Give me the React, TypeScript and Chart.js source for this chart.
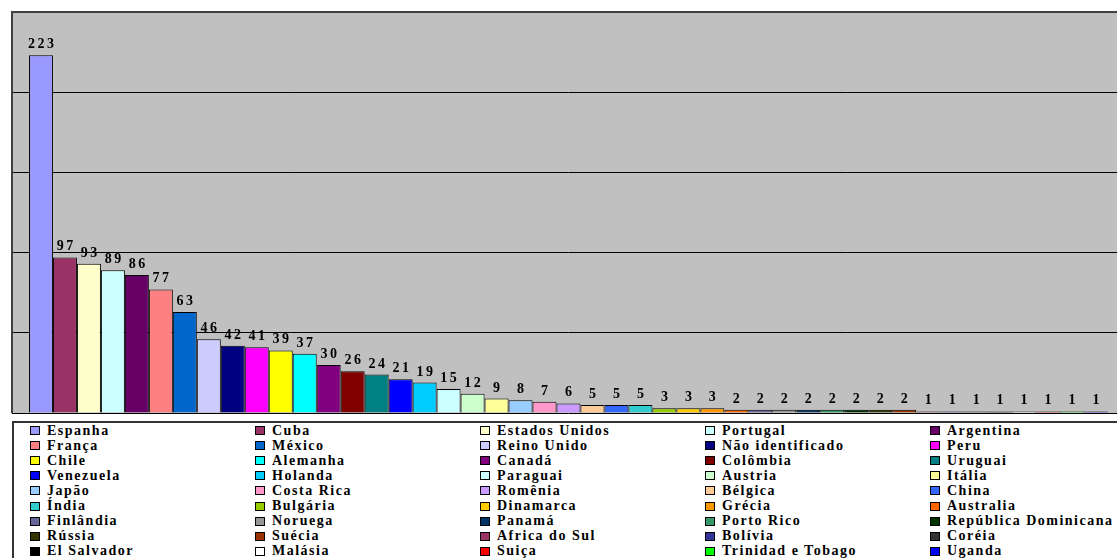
import React, { useEffect, useRef } from "react";
import { Chart, registerables } from "chart.js";

Chart.register(...registerables);

const countries: string[] = [
  "Espanha", "Cuba", "Estados Unidos", "Portugal", "Argentina",
  "França", "México", "Reino Unido", "Não identificado", "Peru",
  "Chile", "Alemanha", "Canadá", "Colômbia", "Uruguai",
  "Venezuela", "Holanda", "Paraguai", "Austria", "Itália",
  "Japão", "Costa Rica", "Romênia", "Bélgica", "China",
  "Índia", "Bulgária", "Dinamarca", "Grécia", "Australia",
  "Finlândia", "Noruega", "Panamá", "Porto Rico", "República Dominicana",
  "Rússia", "Suécia", "Africa do Sul", "Bolívia", "Coréia",
  "El Salvador", "Malásia", "Suiça", "Trinidad e Tobago", "Uganda",
];

const counts: number[] = [
  223, 97, 93, 89, 86,
  77, 63, 46, 42, 41,
  39, 37, 30, 26, 24,
  21, 19, 15, 12, 9,
  8, 7, 6, 5, 5,
  5, 3, 3, 3, 2,
  2, 2, 2, 2, 2,
  2, 2, 1, 1, 1,
  1, 1, 1, 1, 1,
];

const colors: string[] = [
  "#9999FF", "#993366", "#FFFFCC", "#CCFFFF", "#660066",
  "#FF8080", "#0066CC", "#CCCCFF", "#000080", "#FF00FF",
  "#FFFF00", "#00FFFF", "#800080", "#800000", "#008080",
  "#0000FF", "#00CCFF", "#CCFFFF", "#CCFFCC", "#FFFF99",
  "#99CCFF", "#FF99CC", "#CC99FF", "#FFCC99", "#3366FF",
  "#33CCCC", "#99CC00", "#FFCC00", "#FF9900", "#FF6600",
  "#666699", "#969696", "#003366", "#339966", "#003300",
  "#333300", "#993300", "#993366", "#333399", "#333333",
  "#000000", "#FFFFFF", "#FF0000", "#00FF00", "#0000FF",
];

const yMax = 250;
const yStep = 50;

const FONT = '"Liberation Serif", "Times New Roman", serif';

const plotBg = {
  id: "plotBg",
  beforeDraw(chart: any) {
    const { ctx, chartArea: a } = chart;
    ctx.save();
    ctx.fillStyle = "#C0C0C0";
    ctx.fillRect(a.left, a.top, a.right - a.left, a.bottom - a.top);
    ctx.restore();
  },
  afterDraw(chart: any) {
    const { ctx, chartArea: a } = chart;
    ctx.save();
    ctx.strokeStyle = "#404040";
    ctx.lineWidth = 2;
    ctx.beginPath();
    ctx.moveTo(a.left, a.bottom);
    ctx.lineTo(a.left, a.top);
    ctx.lineTo(chart.width, a.top);
    ctx.stroke();
    ctx.restore();
  },
};

const LABEL_SPACING = 2.5;

const valueLabels = {
  id: "valueLabels",
  afterDatasetsDraw(chart: any) {
    const { ctx } = chart;
    ctx.save();
    ctx.font = `bold 14px ${FONT}`;
    ctx.fillStyle = "#000";
    ctx.textAlign = "left";
    ctx.textBaseline = "alphabetic";
    try { (ctx as any).letterSpacing = `${LABEL_SPACING}px`; } catch (e) {}
    chart.data.datasets.forEach((ds: any, i: number) => {
      const meta = chart.getDatasetMeta(i);
      const el = meta.data[0];
      if (!el) return;
      const txt = String(ds.data[0]);
      const w = ctx.measureText(txt).width - LABEL_SPACING;
      ctx.fillText(txt, el.x - w / 2, el.y - 7);
    });
    ctx.restore();
  },
};

export default function App() {
  const canvasRef = useRef<HTMLCanvasElement | null>(null);

  useEffect(() => {
    if (!canvasRef.current) return;
    const chart = new Chart(canvasRef.current, {
      type: "bar",
      data: {
        labels: [""],
        datasets: countries.map((c, i) => ({
          label: c,
          data: [counts[i]],
          backgroundColor: colors[i],
          borderColor: "#000000",
          borderWidth: 1,
          categoryPercentage: 0.9695,
          barPercentage: 1,
        })),
      },
      options: {
        animation: false,
        responsive: true,
        maintainAspectRatio: false,
        layout: { padding: { left: 12, top: 12, right: 5, bottom: 7 } },
        plugins: {
          legend: { display: false },
          tooltip: { enabled: false },
        },
        scales: {
          x: { display: false },
          y: {
            min: 0,
            max: yMax,
            ticks: { display: false, stepSize: yStep },
            border: { display: false },
            grid: { color: "#000000", lineWidth: 1, drawTicks: false },
          },
        },
      },
      plugins: [plotBg, valueLabels],
    });
    return () => chart.destroy();
  }, []);

  const colX = [30, 255, 480, 705, 930];

  return (
    <div style={{ position: "fixed", left: 0, top: 0, width: 1117, height: 558, overflow: "hidden", background: "#fff" }}>
      <div style={{ position: "absolute", left: 0, top: 0, width: 1130, height: 420 }}>
        <canvas ref={canvasRef} />
      </div>
      <div
        style={{
          position: "absolute",
          left: 12,
          top: 421,
          width: 1118,
          height: 140,
          borderTop: "2px solid #333",
          borderLeft: "2px solid #333",
          boxSizing: "border-box",
        }}
      >
        {countries.map((c, i) => {
          const col = i % 5;
          const row = Math.floor(i / 5);
          return (
            <div
              key={c}
              style={{
                position: "absolute",
                left: colX[col] - 14,
                top: row * 15.1,
                height: 15,
                display: "flex",
                alignItems: "center",
                whiteSpace: "nowrap",
                font: `bold 14px ${FONT}`,
                letterSpacing: "1.5px",
                color: "#000",
              }}
            >
              <span
                style={{
                  display: "inline-block",
                  width: 10,
                  height: 9,
                  boxSizing: "border-box",
                  border: "1px solid #000",
                  background: colors[i],
                  marginRight: 7,
                }}
              />
              <span>{c}</span>
            </div>
          );
        })}
      </div>
    </div>
  );
}
